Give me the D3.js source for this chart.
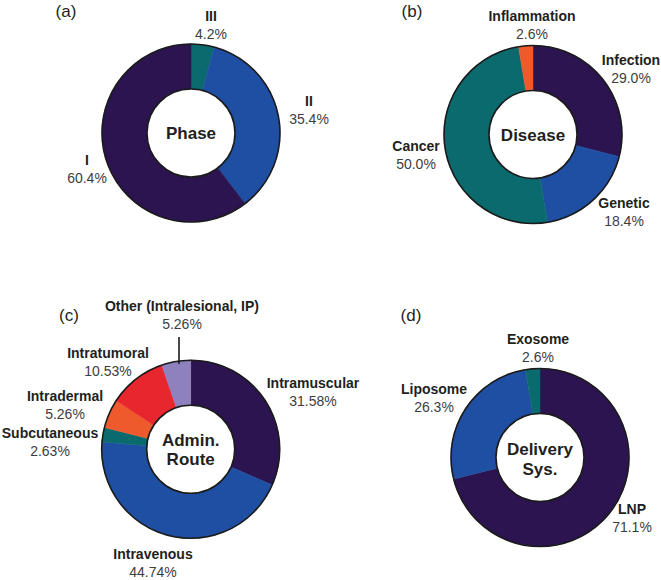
<!DOCTYPE html>
<html><head><meta charset="utf-8">
<script src="https://cdn.jsdelivr.net/npm/d3@7"></script>
<style>
html,body{margin:0;padding:0;background:#fff;}
svg text{font-family:"Liberation Sans",Arial,Helvetica,sans-serif;}
</style></head>
<body>
<script>
// ---- data ----
const phaseCategories = ["III", "II", "I"];
const phaseValues = [4.2, 35.4, 60.4];
const phaseLabels = ["4.2%", "35.4%", "60.4%"];

const diseaseCategories = ["Infection", "Genetic", "Cancer", "Inflammation"];
const diseaseValues = [29.0, 18.4, 50.0, 2.6];
const diseaseLabels = ["29.0%", "18.4%", "50.0%", "2.6%"];

const routeCategories = ["Intramuscular", "Intravenous", "Subcutaneous", "Intradermal", "Intratumoral", "Other (Intralesional, IP)"];
const routeValues = [31.58, 44.74, 2.63, 5.26, 10.53, 5.26];
const routeLabels = ["31.58%", "44.74%", "2.63%", "5.26%", "10.53%", "5.26%"];

const deliveryCategories = ["LNP", "Liposome", "Exosome"];
const deliveryValues = [71.1, 26.3, 2.6];
const deliveryLabels = ["71.1%", "26.3%", "2.6%"];

// ---- styles / layout ----
const C = {purple:"#2b1450", blue:"#1f4fa2", teal:"#0b6a6e", orange:"#ee5a2b", red:"#e8262e", lavender:"#8f80be"};

const charts = [
  {tag:"(a)", tagPos:[66,17], cx:191, cy:133, center:["Phase"], centerY:[139],
   cats:phaseCategories, vals:phaseValues, pcts:phaseLabels,
   colors:[C.teal, C.blue, C.purple],
   pos:[[211,21],[309,106],[87,165]]},
  {tag:"(b)", tagPos:[412,17], cx:533, cy:134.5, center:["Disease"], centerY:[141],
   cats:diseaseCategories, vals:diseaseValues, pcts:diseaseLabels,
   colors:[C.purple, C.blue, C.teal, C.orange],
   pos:[[631,65],[624,208],[416,151],[532,21]]},
  {tag:"(c)", tagPos:[69,321], cx:190.7, cy:449.3, center:["Admin.","Route"], centerY:[446,465],
   cats:routeCategories, vals:routeValues, pcts:routeLabels,
   colors:[C.purple, C.blue, C.teal, C.orange, C.red, C.lavender],
   pos:[[313,388],[153,559],[50,438],[65,401],[108,358],[182,311]],
   leader:{x:179, y1:337, y2:364}},
  {tag:"(d)", tagPos:[411,321], cx:540, cy:457.5, center:["Delivery","Sys."], centerY:[455,475],
   cats:deliveryCategories, vals:deliveryValues, pcts:deliveryLabels,
   colors:[C.purple, C.blue, C.teal],
   pos:[[632,514],[434,394],[538,344]]}
];

const W = 661, H = 580, R_OUT = 89, R_IN = 44;
const svg = d3.select("body").append("svg").attr("width", W).attr("height", H);

const pie = d3.pie().sort(null).value(d => d.v);
const arc = d3.arc().innerRadius(R_IN).outerRadius(R_OUT);

charts.forEach(ch => {
  const data = ch.vals.map((v,i) => ({v, cat:ch.cats[i], pct:ch.pcts[i], color:ch.colors[i], pos:ch.pos[i]}));
  const g = svg.append("g").attr("transform", `translate(${ch.cx},${ch.cy})`);
  g.selectAll("path.slice").data(pie(data)).join("path")
    .attr("class","slice")
    .attr("d", arc)
    .attr("fill", d => d.data.color)
    .attr("stroke", d => d.data.color)
    .attr("stroke-width", 0.5);
  g.append("circle").attr("r", R_OUT).attr("fill","none").attr("stroke","#1b1b1b").attr("stroke-width",1.6);
  g.append("circle").attr("r", R_IN).attr("fill","#fff").attr("stroke","#1b1b1b").attr("stroke-width",1.6);

  ch.center.forEach((t,i) => {
    svg.append("text").attr("x", ch.cx).attr("y", ch.centerY[i])
      .attr("text-anchor","middle").attr("font-size",17).attr("font-weight","bold")
      .attr("fill","#231f20").text(t);
  });

  svg.append("text").attr("x", ch.tagPos[0]).attr("y", ch.tagPos[1])
    .attr("text-anchor","middle").attr("font-size",17).attr("fill","#231f20").text(ch.tag);

  data.forEach(d => {
    svg.append("text").attr("x", d.pos[0]).attr("y", d.pos[1])
      .attr("text-anchor","middle").attr("font-size",14).attr("font-weight","bold")
      .attr("fill","#231f20").text(d.cat);
    svg.append("text").attr("x", d.pos[0]).attr("y", d.pos[1] + 18)
      .attr("text-anchor","middle").attr("font-size",14)
      .attr("fill","#3d3d3d").text(d.pct);
  });

  if (ch.leader) {
    svg.append("line").attr("x1", ch.leader.x).attr("x2", ch.leader.x)
      .attr("y1", ch.leader.y1).attr("y2", ch.leader.y2)
      .attr("stroke","#1b1b1b").attr("stroke-width",1.6);
  }
});
</script>
</body></html>
